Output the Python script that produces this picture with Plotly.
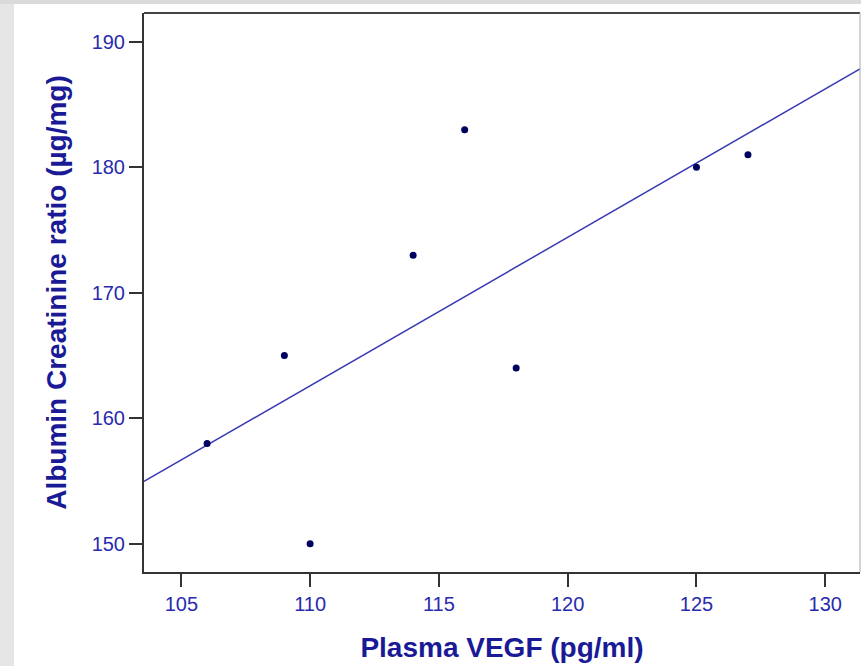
import numpy as np
import plotly.graph_objects as go

# Plasma VEGF (pg/ml) vs albumin/creatinine ratio (µg/mg)
vegf = [106, 109, 110, 114, 116, 118, 125, 127]
acr = [158, 165, 150, 173, 183, 164, 180, 181]

x_ticks = [105, 110, 115, 120, 125, 130]
y_ticks = [150, 160, 170, 180, 190]

x_range = [103.55, 131.35]
y_range = [147.75, 192.3]

# Least-squares fit line across the full x range
slope, intercept = np.polyfit(vegf, acr, 1)
fit_x = np.array(x_range)
fit_y = slope * fit_x + intercept

tick_color = "#2a2aae"
title_color = "#1a1a96"
font_family = "Arial, Liberation Sans"

fig = go.Figure()
fig.add_trace(go.Scatter(
    x=fit_x, y=fit_y, mode="lines",
    line=dict(color="#3a3ab4", width=1.5),
    hoverinfo="skip", showlegend=False,
))
fig.add_trace(go.Scatter(
    x=vegf, y=acr, mode="markers",
    marker=dict(color="#000060", size=7),
    showlegend=False,
))

axis_common = dict(
    showgrid=False, zeroline=False,
    showline=True, linecolor="#333333", linewidth=2,
    ticks="outside", ticklen=13, tickwidth=2, tickcolor="#333333",
    tickfont=dict(family=font_family, size=20, color=tick_color),
)

fig.update_xaxes(
    range=x_range, tickvals=x_ticks, **axis_common,
    title=dict(text="<b>Plasma VEGF (pg/ml)</b>", standoff=23,
               font=dict(family=font_family, size=28, color=title_color)),
)
fig.update_yaxes(
    range=y_range, tickvals=y_ticks, **axis_common,
    title=dict(text="<b>Albumin Creatinine ratio (µg/mg)</b>", standoff=17,
               font=dict(family=font_family, size=28, color=title_color)),
)

fig.update_layout(
    width=861, height=666,
    margin=dict(l=144, r=1, t=13, b=94),
    paper_bgcolor="white", plot_bgcolor="white",
    shapes=[
        # top and right frame edges
        dict(type="line", xref="paper", yref="paper", x0=0, x1=1, y0=1, y1=1,
             line=dict(color="#444444", width=2)),
        dict(type="line", xref="paper", yref="paper", x0=1, x1=1, y0=0, y1=1,
             line=dict(color="#aaaaaa", width=1)),
        # page border strips
        dict(type="rect", xref="paper", yref="paper",
             x0=-144 / 716, x1=-130 / 716, y0=-94 / 559, y1=1 + 13 / 559,
             fillcolor="#e6e6e6", line=dict(width=0), layer="below"),
        dict(type="rect", xref="paper", yref="paper",
             x0=-144 / 716, x1=1 + 1 / 716, y0=1 + 9 / 559, y1=1 + 13 / 559,
             fillcolor="#dadada", line=dict(width=0), layer="below"),
    ],
)

fig.write_html("out.html")
